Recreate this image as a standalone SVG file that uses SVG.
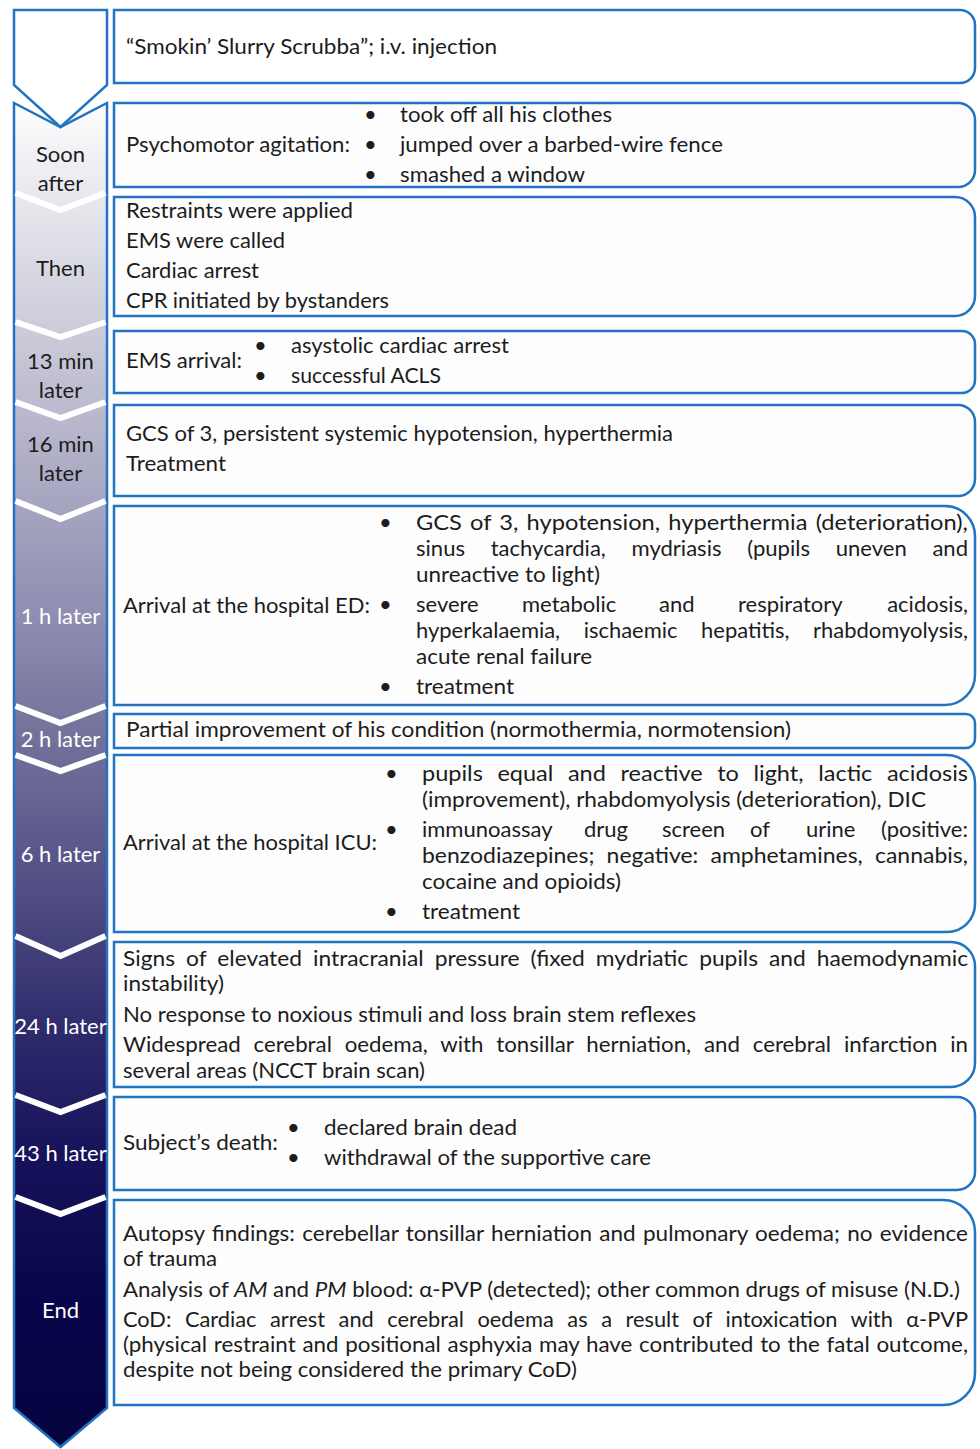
<svg xmlns="http://www.w3.org/2000/svg" width="980" height="1449" viewBox="0 0 980 1449">
<style>
text{font-family:Lato,"Open Sans","Liberation Sans",sans-serif;font-size:22px;fill:#1c1c1c}
.lbl{text-anchor:middle}
.end{text-anchor:end}
.w{fill:#ffffff}
.box{fill:#fdfdfd;stroke:#2074c1;stroke-width:2.5}
.sep{fill:none;stroke:#ffffff;stroke-width:6}
.chev{stroke:#2074c1;stroke-width:2.5;stroke-linejoin:miter}
</style>
<defs>
<linearGradient id="gcol" gradientUnits="userSpaceOnUse" x1="0" y1="103" x2="0" y2="1449">
<stop offset="0" stop-color="#ffffff"/>
<stop offset="0.04" stop-color="#f0f0f4"/>
<stop offset="0.125" stop-color="#d8d8e2"/>
<stop offset="0.2" stop-color="#c3c2d4"/>
<stop offset="0.26" stop-color="#b1b0c7"/>
<stop offset="0.385" stop-color="#8e8cb0"/>
<stop offset="0.466" stop-color="#75739c"/>
<stop offset="0.555" stop-color="#5a588a"/>
<stop offset="0.69" stop-color="#2e2b6c"/>
<stop offset="0.78" stop-color="#16135a"/>
<stop offset="0.89" stop-color="#08064a"/>
<stop offset="1" stop-color="#05043e"/>
</linearGradient>
</defs>
<rect width="980" height="1449" fill="#ffffff"/>

<g id="timeline">
<polygon class="chev" fill="url(#gcol)" points="14,103 60.5,127 107,103 107,1408 60.5,1447 14,1408"/>
<polygon class="chev" fill="#ffffff" points="14,10 107,10 107,85 60.5,127 14,85"/>
<polyline class="sep" points="15.5,193 60.5,210 105.5,193"/>
<polyline class="sep" points="15.5,322 60.5,337 105.5,322"/>
<polyline class="sep" points="15.5,402 60.5,418 105.5,402"/>
<polyline class="sep" points="15.5,501 60.5,519 105.5,501"/>
<polyline class="sep" points="15.5,706 60.5,723 105.5,706"/>
<polyline class="sep" points="15.5,755 60.5,771 105.5,755"/>
<polyline class="sep" points="15.5,936 60.5,956 105.5,936"/>
<polyline class="sep" points="15.5,1095 60.5,1112 105.5,1095"/>
<polyline class="sep" points="15.5,1197 60.5,1214 105.5,1197"/>
<text class="lbl" x="60.5" y="162">Soon</text>
<text class="lbl" x="60.5" y="191">after</text>
<text class="lbl" x="60.5" y="276">Then</text>
<text class="lbl" x="60.5" y="369">13 min</text>
<text class="lbl" x="60.5" y="398">later</text>
<text class="lbl" x="60.5" y="452">16 min</text>
<text class="lbl" x="60.5" y="481">later</text>
<text class="lbl w" x="60.5" y="624">1 h later</text>
<text class="lbl w" x="60.5" y="747">2 h later</text>
<text class="lbl w" x="60.5" y="862">6 h later</text>
<text class="lbl w" x="60.5" y="1034">24 h later</text>
<text class="lbl w" x="60.5" y="1161">43 h later</text>
<text class="lbl w" x="60.5" y="1318">End</text>
</g>

<g id="connectors"></g>

<g id="box1">
<path class="box" style="fill:#ffffff" d="M114,10 H960 A15,15 0 0 1 975,25 V68 A15,15 0 0 1 960,83 H114 Z"/>
<text x="126" y="54" textLength="371" lengthAdjust="spacingAndGlyphs">“Smokin’ Slurry Scrubba”; i.v. injection</text>
</g>

<g id="box2">
<path class="box" d="M114,103 H958 A17,17 0 0 1 975,120 V170 A17,17 0 0 1 958,187 H114 Z"/>
<text x="126" y="152" textLength="224" lengthAdjust="spacingAndGlyphs">Psychomotor agitation:</text>
<text x="364" y="122">•</text><text x="364" y="152">•</text><text x="364" y="182">•</text>
<text x="400" y="122" textLength="212" lengthAdjust="spacingAndGlyphs">took off all his clothes</text>
<text x="400" y="152" textLength="323" lengthAdjust="spacingAndGlyphs">jumped over a barbed-wire fence</text>
<text x="400" y="182" textLength="185" lengthAdjust="spacingAndGlyphs">smashed a window</text>
</g>

<g id="box3">
<path class="box" d="M114,197 H955 A20,20 0 0 1 975,217 V296 A20,20 0 0 1 955,316 H114 Z"/>
<text x="126" y="218" textLength="227" lengthAdjust="spacingAndGlyphs">Restraints were applied</text>
<text x="126" y="248" textLength="159" lengthAdjust="spacingAndGlyphs">EMS were called</text>
<text x="126" y="278" textLength="133" lengthAdjust="spacingAndGlyphs">Cardiac arrest</text>
<text x="126" y="308" textLength="263" lengthAdjust="spacingAndGlyphs">CPR initiated by bystanders</text>
</g>

<g id="box4">
<path class="box" d="M114,331 H962 A13,13 0 0 1 975,344 V380 A13,13 0 0 1 962,393 H114 Z"/>
<text x="126" y="368" textLength="116" lengthAdjust="spacingAndGlyphs">EMS arrival:</text>
<text x="254" y="353">•</text><text x="254" y="383">•</text>
<text x="291" y="353" textLength="218" lengthAdjust="spacingAndGlyphs">asystolic cardiac arrest</text>
<text x="291" y="383" textLength="150" lengthAdjust="spacingAndGlyphs">successful ACLS</text>
</g>

<g id="box5">
<path class="box" d="M114,405 H958 A17,17 0 0 1 975,422 V479 A17,17 0 0 1 958,496 H114 Z"/>
<text x="126" y="441" textLength="547" lengthAdjust="spacingAndGlyphs">GCS of 3, persistent systemic hypotension, hyperthermia</text>
<text x="126" y="471" textLength="100" lengthAdjust="spacingAndGlyphs">Treatment</text>
</g>

<g id="box6">
<path class="box" d="M114,506 H945 A30,30 0 0 1 975,536 V675 A30,30 0 0 1 945,705 H114 Z"/>
<text x="123" y="613" textLength="247" lengthAdjust="spacingAndGlyphs">Arrival at the hospital ED:</text>
<text x="379" y="530">•</text><text x="379" y="612">•</text><text x="379" y="694">•</text>
<text x="416" y="530" word-spacing="2" textLength="552" lengthAdjust="spacingAndGlyphs">GCS of 3, hypotension, hyperthermia (deterioration),</text>
<text x="416" y="556" word-spacing="20" textLength="552" lengthAdjust="spacingAndGlyphs">sinus tachycardia, mydriasis (pupils uneven and</text>
<text x="416" y="582" textLength="184" lengthAdjust="spacingAndGlyphs">unreactive to light)</text>
<text y="612"><tspan x="416">severe</tspan><tspan x="522">metabolic</tspan><tspan x="659">and</tspan><tspan x="738">respiratory</tspan></text>
<text class="end" x="968" y="612">acidosis,</text>
<text x="416" y="638" word-spacing="18" textLength="552" lengthAdjust="spacingAndGlyphs">hyperkalaemia, ischaemic hepatitis, rhabdomyolysis,</text>
<text x="416" y="664" textLength="176" lengthAdjust="spacingAndGlyphs">acute renal failure</text>
<text x="416" y="694" textLength="98" lengthAdjust="spacingAndGlyphs">treatment</text>
</g>

<g id="box7">
<path class="box" d="M114,714 H966 A9,9 0 0 1 975,723 V739 A9,9 0 0 1 966,748 H114 Z"/>
<text x="126" y="737" textLength="665" lengthAdjust="spacingAndGlyphs">Partial improvement of his condition (normothermia, normotension)</text>
</g>

<g id="box8">
<path class="box" d="M114,755 H947 A28,28 0 0 1 975,783 V904 A28,28 0 0 1 947,932 H114 Z"/>
<text x="123" y="850" textLength="254" lengthAdjust="spacingAndGlyphs">Arrival at the hospital ICU:</text>
<text x="385" y="781">•</text><text x="385" y="837">•</text><text x="385" y="919">•</text>
<text x="422" y="781" word-spacing="8" textLength="546" lengthAdjust="spacingAndGlyphs">pupils equal and reactive to light, lactic acidosis</text>
<text x="422" y="807" textLength="504" lengthAdjust="spacingAndGlyphs">(improvement), rhabdomyolysis (deterioration), DIC</text>
<text y="837"><tspan x="422">immunoassay</tspan><tspan x="584">drug</tspan><tspan x="662">screen</tspan><tspan x="750">of</tspan><tspan x="806">urine</tspan></text>
<text class="end" x="968" y="837">(positive:</text>
<text x="422" y="863" word-spacing="6" textLength="546" lengthAdjust="spacingAndGlyphs">benzodiazepines; negative: amphetamines, cannabis,</text>
<text x="422" y="889" textLength="199" lengthAdjust="spacingAndGlyphs">cocaine and opioids)</text>
<text x="422" y="919" textLength="98" lengthAdjust="spacingAndGlyphs">treatment</text>
</g>

<g id="box9">
<path class="box" d="M114,942 H951 A24,24 0 0 1 975,966 V1063 A24,24 0 0 1 951,1087 H114 Z"/>
<text x="123" y="966" word-spacing="5" textLength="845" lengthAdjust="spacingAndGlyphs">Signs of elevated intracranial pressure (fixed mydriatic pupils and haemodynamic</text>
<text x="123" y="991" textLength="101" lengthAdjust="spacingAndGlyphs">instability)</text>
<text x="123" y="1022" textLength="573" lengthAdjust="spacingAndGlyphs">No response to noxious stimuli and loss brain stem reflexes</text>
<text x="123" y="1052" word-spacing="7" textLength="845" lengthAdjust="spacingAndGlyphs">Widespread cerebral oedema, with tonsillar herniation, and cerebral infarction in</text>
<text x="123" y="1078" textLength="302" lengthAdjust="spacingAndGlyphs">several areas (NCCT brain scan)</text>
</g>

<g id="box10">
<path class="box" d="M114,1097 H957 A18,18 0 0 1 975,1115 V1172 A18,18 0 0 1 957,1190 H114 Z"/>
<text x="123" y="1150" textLength="155" lengthAdjust="spacingAndGlyphs">Subject’s death:</text>
<text x="287" y="1135">•</text><text x="287" y="1165">•</text>
<text x="324" y="1135" textLength="193" lengthAdjust="spacingAndGlyphs">declared brain dead</text>
<text x="324" y="1165" textLength="327" lengthAdjust="spacingAndGlyphs">withdrawal of the supportive care</text>
</g>

<g id="box11">
<path class="box" d="M114,1200 H943 A32,32 0 0 1 975,1232 V1373 A32,32 0 0 1 943,1405 H114 Z"/>
<text x="123" y="1241" word-spacing="1.5" textLength="845" lengthAdjust="spacingAndGlyphs">Autopsy findings: cerebellar tonsillar herniation and pulmonary oedema; no evidence</text>
<text x="123" y="1266" textLength="94" lengthAdjust="spacingAndGlyphs">of trauma</text>
<text x="123" y="1297" textLength="837" lengthAdjust="spacingAndGlyphs">Analysis of <tspan font-style="italic">AM</tspan> and <tspan font-style="italic">PM</tspan> blood: α-PVP (detected); other common drugs of misuse (N.D.)</text>
<text x="123" y="1327" word-spacing="8" textLength="845" lengthAdjust="spacingAndGlyphs">CoD: Cardiac arrest and cerebral oedema as a result of intoxication with α-PVP</text>
<text x="123" y="1352" word-spacing="1" textLength="845" lengthAdjust="spacingAndGlyphs">(physical restraint and positional asphyxia may have contributed to the fatal outcome,</text>
<text x="123" y="1377" textLength="454" lengthAdjust="spacingAndGlyphs">despite not being considered the primary CoD)</text>
</g>
</svg>
